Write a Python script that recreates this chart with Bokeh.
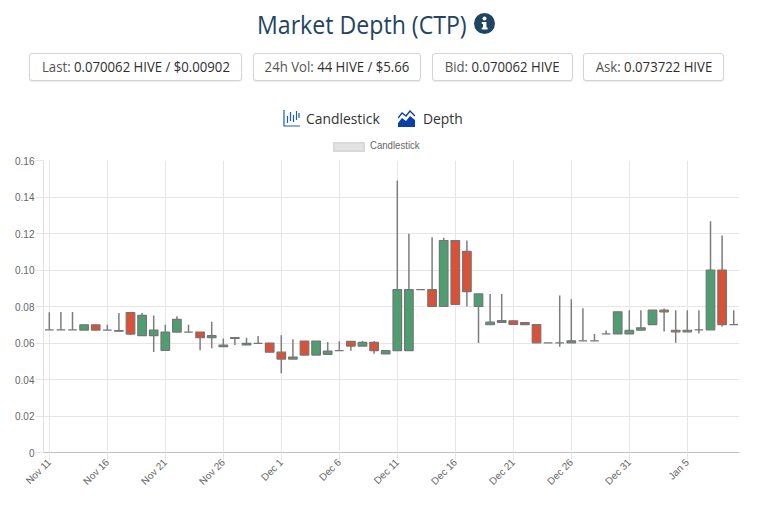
from math import pi
from bokeh.plotting import figure
from bokeh.embed import file_html
from bokeh.resources import INLINE
from bokeh.layouts import column
from bokeh.models import (ColumnDataSource, Div, FixedTicker, Range1d)

tick_days = ["Nov 11", "Nov 16", "Nov 21", "Nov 26", "Dec 1", "Dec 6", "Dec 11", "Dec 16", "Dec 21", "Dec 26", "Dec 31", "Jan 5"]
y_ticks = [0, 0.02, 0.04, 0.06, 0.08, 0.10, 0.12, 0.14, 0.16]

opens = [0.0672, 0.0672, 0.0672, 0.0671, 0.0700, 0.0671, 0.0665, 0.0767, 0.0640, 0.0640,
         0.0560, 0.0660, 0.0660, 0.0660, 0.0629, 0.0580, 0.0629, 0.0589, 0.0598, 0.0600,
         0.0550, 0.0512, 0.0611, 0.0534, 0.0538, 0.0558, 0.0609, 0.0583, 0.0603, 0.0540,
         0.0558, 0.0558, 0.0893, 0.0893, 0.0800, 0.1161, 0.1102, 0.0800, 0.0700, 0.0713,
         0.0722, 0.0712, 0.0701, 0.0601, 0.0601, 0.0601, 0.0612, 0.0612, 0.0650, 0.0650,
         0.0650, 0.0670, 0.0701, 0.0780, 0.0670, 0.0661, 0.0672, 0.0672, 0.1000, 0.0701]
closes = [0.0672, 0.0672, 0.0672, 0.0700, 0.0671, 0.0671, 0.0668, 0.0649, 0.0751, 0.0671,
          0.0660, 0.0729, 0.0660, 0.0629, 0.0640, 0.0589, 0.0625, 0.0598, 0.0598, 0.0550,
          0.0512, 0.0523, 0.0534, 0.0611, 0.0556, 0.0558, 0.0583, 0.0603, 0.0558, 0.0558,
          0.0893, 0.0893, 0.0893, 0.0800, 0.1161, 0.0811, 0.0882, 0.0869, 0.0714, 0.0723,
          0.0702, 0.0701, 0.0601, 0.0601, 0.0601, 0.0612, 0.0612, 0.0612, 0.0650, 0.0771,
          0.0670, 0.0683, 0.0780, 0.0771, 0.0661, 0.0670, 0.0672, 0.1000, 0.0701, 0.0701]
highs = [0.0769, 0.0770, 0.0770, 0.0700, 0.0700, 0.0700, 0.0765, 0.0767, 0.0765, 0.0751,
         0.0700, 0.0747, 0.0700, 0.0660, 0.0716, 0.0624, 0.0629, 0.0629, 0.0638, 0.0600,
         0.0642, 0.0621, 0.0611, 0.0611, 0.0605, 0.0609, 0.0609, 0.0611, 0.0611, 0.0558,
         0.1490, 0.1199, 0.0893, 0.1179, 0.1177, 0.1161, 0.1161, 0.0869, 0.0869, 0.0869,
         0.0722, 0.0712, 0.0701, 0.0601, 0.0860, 0.0840, 0.0791, 0.0650, 0.0669, 0.0771,
         0.0780, 0.0780, 0.0780, 0.0789, 0.0780, 0.0780, 0.0780, 0.1267, 0.1189, 0.0780]
lows = [0.0672, 0.0672, 0.0672, 0.0671, 0.0671, 0.0671, 0.0665, 0.0644, 0.0640, 0.0551,
        0.0560, 0.0660, 0.0660, 0.0560, 0.0571, 0.0580, 0.0589, 0.0589, 0.0598, 0.0550,
        0.0434, 0.0512, 0.0534, 0.0534, 0.0538, 0.0558, 0.0558, 0.0583, 0.0541, 0.0540,
        0.0558, 0.0558, 0.0893, 0.0800, 0.0800, 0.0811, 0.0800, 0.0600, 0.0700, 0.0713,
        0.0702, 0.0701, 0.0601, 0.0601, 0.0579, 0.0601, 0.0612, 0.0612, 0.0650, 0.0650,
        0.0650, 0.0670, 0.0701, 0.0663, 0.0601, 0.0661, 0.0652, 0.0672, 0.0690, 0.0701]

UP = "#4f9e72"
DOWN = "#db5138"
EDGE = "#757575"

days = list(range(len(opens)))
colors = [UP if c > o else DOWN if c < o else EDGE for o, c in zip(opens, closes)]
source = ColumnDataSource(dict(day=days, open=opens, close=closes, high=highs, low=lows, color=colors))

chip = ("position:absolute;top:53px;height:28px;box-sizing:border-box;border:1px solid #d4d4d4;"
        "border-radius:3px;background:#fff;box-shadow:0 1px 1px rgba(0,0,0,.08);"
        "line-height:26px;text-align:center;white-space:nowrap;color:#555;font-size:14px;")
val = "color:#2f2f2f;font-weight:500;"


def chip_html(left, width, label, value_text):
    return (f'<div style="{chip}left:{left}px;width:{width}px;">'
            f'<span style="display:inline-block;transform:scaleX(.94);">{label}: '
            f'<span style="{val}">{value_text}</span></span></div>')


candle_icon = ('<svg style="position:absolute;left:283px;top:110px" width="17" height="17" viewBox="0 0 17 17">'
               '<path d="M1 0V16H17" fill="none" stroke="#1c5fb0" stroke-width="1.2"/>'
               '<path d="M4.5 6V13M7.5 2V11M10.5 5V12M13.5 1V10M16 3V8" stroke="#1c5fb0" stroke-width="1.2"/></svg>')
depth_icon = ('<svg style="position:absolute;left:398px;top:110px" width="17" height="17" viewBox="0 0 17 17">'
              '<path d="M0 8L4 3L8 6L12 1L17 6" fill="none" stroke="#0b3fa8" stroke-width="1.4"/>'
              '<path d="M0 13L4 8L8 11L12 6L17 10V17H0Z" fill="#0b3fa8"/></svg>')
info_icon = ('<svg style="position:absolute;left:474px;top:13px" width="21" height="21" viewBox="0 0 21 21">'
             '<circle cx="10.5" cy="10.5" r="10.5" fill="#1f4562"/>'
             '<circle cx="10.5" cy="5.6" r="2" fill="#fff"/>'
             '<path d="M7.8 9H12.4V14.6H13.6V16.6H7.8V14.6H9V11H7.8Z" fill="#fff"/></svg>')

narrow = "transform:scaleX(.925);transform-origin:left center;"
legend_html = ('<div style="position:absolute;left:333px;top:142px;width:32px;height:10px;box-sizing:border-box;'
               'background:#e3e3e3;border:2px solid #d9d9d9;"></div>'
               '<div style="position:absolute;left:370px;top:140px;color:#666;font-size:10px;line-height:12px;'
               'font-family:\'Liberation Sans\';white-space:nowrap;transform:scaleX(.96);transform-origin:left center;">Candlestick</div>')
header_html = (
    '<div style="position:relative;width:768px;height:150px;font-family:\'Open Sans\';">'
    f'<div style="position:absolute;left:257px;top:7px;color:#1f4562;font-size:25px;line-height:34px;white-space:nowrap;{narrow}">'
    'Market Depth (CTP)</div>' + info_icon +
    chip_html(29, 213, "Last", "0.070062 HIVE / $0.00902") +
    chip_html(253, 168, "24h Vol", "44 HIVE / $5.66") +
    chip_html(432, 141, "Bid", "0.070062 HIVE") +
    chip_html(583, 141, "Ask", "0.073722 HIVE") +
    candle_icon +
    f'<div style="position:absolute;left:306px;top:107px;color:#333;font-size:15px;line-height:22px;{narrow}">Candlestick</div>' +
    depth_icon +
    f'<div style="position:absolute;left:423px;top:107px;color:#333;font-size:15px;line-height:22px;{narrow}">Depth</div>' +
    legend_html + '</div>'
)
header = Div(text=header_html, width=760, height=150, margin=(0, 0, 0, 0))

p = figure(width=760, height=347, output_backend="svg", toolbar_location=None,
           x_range=Range1d(-0.5, 59.5), y_range=Range1d(0, 0.16),
           min_border_left=43, min_border_right=21, min_border_top=10, min_border_bottom=45,
           outline_line_color=None, border_fill_color=None, margin=(0, 0, 0, 0))

p.segment("day", "low", "day", "high", source=source, line_color="#7d7d7d", line_width=1.5)
p.vbar("day", top="open", bottom="close", width=0.74, source=source,
       fill_color="color", line_color=EDGE, line_width=1.2)

tick_positions = [days[k] for k in range(0, len(tick_days) * 5, 5)]
p.xaxis.ticker = FixedTicker(ticks=tick_positions)
p.xaxis.major_label_overrides = {t: s for t, s in zip(tick_positions, tick_days)}
p.xaxis.major_label_orientation = pi / 4
p.xaxis.major_label_standoff = 0
p.yaxis.ticker = FixedTicker(ticks=y_ticks)
p.yaxis.major_label_overrides = {t: ("0" if t == 0 else f"{t:.2f}") for t in y_ticks}
p.yaxis.major_label_standoff = 1

for ax in (p.xaxis[0], p.yaxis[0]):
    ax.major_label_text_font = "Liberation Sans"
    ax.major_label_text_font_size = "10px"
    ax.major_label_text_color = "#666666"
    ax.major_tick_in = 0
    ax.major_tick_out = 8
    ax.major_tick_line_color = "#e6e6e6"
    ax.minor_tick_line_color = None
p.xaxis.axis_line_color = "#bfbfbf"
p.yaxis.axis_line_color = "#e0e0e0"
p.xgrid.ticker = FixedTicker(ticks=tick_positions)
p.ygrid.ticker = FixedTicker(ticks=y_ticks)
p.xgrid.grid_line_color = "#e6e6e6"
p.ygrid.grid_line_color = "#e6e6e6"

page = column(header, p, spacing=0)
open("out.html", "w").write(file_html(page, INLINE))
